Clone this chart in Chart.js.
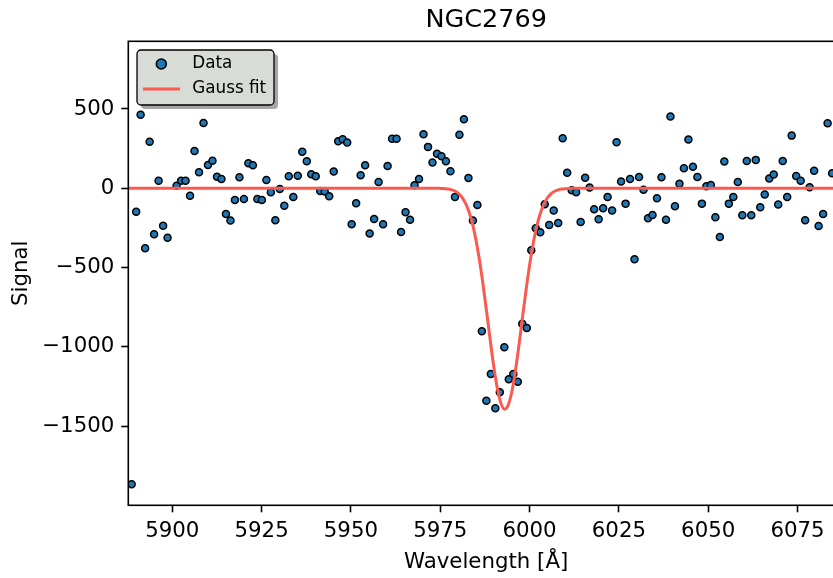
<!DOCTYPE html>
<html>
<head>
<meta charset="utf-8">
<title>NGC2769</title>
<script src="https://cdn.jsdelivr.net/npm/chart.js@4.4.1/dist/chart.umd.min.js"></script>
<style>
  html, body { margin: 0; padding: 0; background: #fff; overflow: hidden; }
  #wrap { width: 833px; height: 578px; overflow: hidden; }
</style>
</head>
<body>
<div id="wrap"><canvas id="spectrumChart" width="850" height="578"></canvas></div>
<script>
// Observed spectrum (wavelength in Angstrom, signal)
const wavelength = [
  5888.64, 5889.90, 5891.15, 5892.41, 5893.67, 5894.92, 5896.18, 5897.44, 5898.69, 5899.95,
  5901.21, 5902.47, 5903.72, 5904.98, 5906.23, 5907.49, 5908.75, 5910.00, 5911.26, 5912.52,
  5913.77, 5915.03, 5916.29, 5917.54, 5918.80, 5920.06, 5921.31, 5922.57, 5923.82, 5925.08,
  5926.34, 5927.59, 5928.85, 5930.11, 5931.36, 5932.62, 5933.88, 5935.13, 5936.39, 5937.65,
  5938.90, 5940.16, 5941.42, 5942.67, 5943.93, 5945.19, 5946.44, 5947.70, 5948.96, 5950.21,
  5951.47, 5952.73, 5953.98, 5955.24, 5956.50, 5957.75, 5959.01, 5960.27, 5961.52, 5962.78,
  5964.04, 5965.29, 5966.55, 5967.81, 5969.06, 5970.32, 5971.58, 5972.83, 5974.09, 5975.35,
  5976.60, 5977.86, 5979.12, 5980.37, 5981.63, 5982.89, 5984.14, 5985.40, 5986.65, 5987.91,
  5989.17, 5990.42, 5991.68, 5992.94, 5994.19, 5995.45, 5996.71, 5997.96, 5999.22, 6000.48,
  6001.73, 6002.99, 6004.25, 6005.50, 6006.76, 6008.02, 6009.27, 6010.53, 6011.79, 6013.04,
  6014.30, 6015.56, 6016.81, 6018.07, 6019.33, 6020.58, 6021.84, 6023.10, 6024.35, 6025.61,
  6026.87, 6028.12, 6029.38, 6030.64, 6031.89, 6033.15, 6034.41, 6035.66, 6036.92, 6038.18,
  6039.43, 6040.69, 6041.95, 6043.20, 6044.46, 6045.72, 6046.97, 6048.23, 6049.49, 6050.74,
  6052.00, 6053.26, 6054.51, 6055.77, 6057.02, 6058.28, 6059.54, 6060.79, 6062.05, 6063.31,
  6064.56, 6065.82, 6067.08, 6068.33, 6069.59, 6070.85, 6072.10, 6073.36, 6074.62, 6075.87,
  6077.13, 6078.39, 6079.64, 6080.90, 6082.16, 6083.41, 6084.67,
]
const signal = [
  -1867, -148, 464, -379, 294, -290, 48, -236, -312, null,
  16, 48, 48, -47, 235, 101, 412, 147, 174, 73,
  59, -162, -204, -74, 69, -68, 158, 145, -68, -74,
  52, -25, -202, -4, -110, 76, -55, 79, 231, 170,
  88, 76, -17, -21, -50, 105, 297, 309, 288, -227,
  -95, 82, 145, -286, -194, 40, -227, 141, 313, 313,
  -276, -151, -198, 19, 59, 341, 261, 162, 218, 202,
  170, 107, -55, 338, 435, 65, -204, -105, -902, -1340,
  -1172, -1388, -1287, -1003, -1205, -1172, -1220, -854, -881, -391,
  -252, -278, -101, -232, -141, -219, 315, 98, -13, -25,
  -213, 67, 4, -132, -196, -126, -55, -141, 290, 42,
  -97, 59, -448, 71, -9, -189, -168, -63, 69, -198,
  452, -114, 29, 126, 307, 136, 71, -97, 13, 21,
  -183, -307, 168, -97, -55, 40, -170, 172, -170, 179,
  -120, -40, 61, 86, -103, 172, -55, 332, 78, 48,
  -202, 6, 111, -238, -162, 410, 95,
]

// Gaussian fit curve
const fitWavelength = [
  5887, 5974, 5975, 5976, 5977, 5978, 5979, 5980, 5981, 5982, 5983, 5984, 5985, 5986, 5987,
  5988, 5989, 5990, 5991, 5992, 5993, 5994, 5995, 5996, 5997, 5998, 5999, 6000, 6001, 6002,
  6003, 6004, 6005, 6006, 6007, 6008, 6009, 6010, 6011, 6012, 6090,
]
const fitSignal = [
  0, 0, -1, -2, -4.5, -9, -17, -31, -54, -91, -145, -222, -326, -456, -611,
  -783, -960, -1127, -1264, -1357, -1394, -1369, -1287, -1157, -995, -819, -645, -485, -350, -241,
  -159, -100, -60, -35, -19, -10, -5, -2.5, -1, 0, 0,
]

const xTicks = [5900, 5925, 5950, 5975, 6000, 6025, 6050, 6075]
const yTicks = [-1500, -1000, -500, 0, 500]

const FONT = "'DejaVu Sans', sans-serif"
Chart.defaults.font.family = FONT
Chart.defaults.color = "#000"

// matplotlib-like spines on all four sides
const frame = {
  id: "frame",
  afterDatasetsDraw(chart) {
    const { ctx, chartArea } = chart
    ctx.save()
    ctx.strokeStyle = "#000"
    ctx.lineWidth = 1.6
    ctx.strokeRect(chartArea.left, chartArea.top, chartArea.right - chartArea.left, chartArea.bottom - chartArea.top)
    ctx.restore()
  },
}

// Legend box with drop shadow, upper left
const legendBox = {
  id: "legendBox",
  afterDraw(chart) {
    const { ctx, chartArea } = chart
    const x = chartArea.left + 8.7
    const y = chartArea.top + 8.7
    const w = 137
    const h = 55
    const fit = chart.data.datasets[0]
    const pts = chart.data.datasets[1]
    ctx.save()
    ctx.fillStyle = "rgba(0,0,0,0.35)"
    ctx.beginPath()
    ctx.roundRect(x + 4, y + 4, w, h, 4)
    ctx.fill()
    ctx.fillStyle = "#d8dcd6"
    ctx.strokeStyle = "#000"
    ctx.lineWidth = 1.3
    ctx.beginPath()
    ctx.roundRect(x, y, w, h, 4)
    ctx.fill()
    ctx.stroke()

    // Data marker
    ctx.beginPath()
    ctx.arc(x + 24.3, y + 14, 5, 0, Math.PI * 2)
    ctx.fillStyle = pts.pointBackgroundColor
    ctx.fill()
    ctx.lineWidth = 1.6
    ctx.strokeStyle = "#000"
    ctx.stroke()

    // Fit line
    ctx.beginPath()
    ctx.moveTo(x + 6, y + 39)
    ctx.lineTo(x + 43, y + 39)
    ctx.strokeStyle = fit.borderColor
    ctx.lineWidth = 3
    ctx.stroke()

    ctx.fillStyle = "#000"
    ctx.font = "16.8px " + FONT
    ctx.textBaseline = "middle"
    ctx.fillText(pts.label, x + 55.3, y + 14)
    ctx.fillText(fit.label, x + 55.3, y + 39)
    ctx.restore()
  },
}

const axisGrid = {
  display: true,
  drawOnChartArea: false,
  drawTicks: true,
  tickLength: 7,
  tickWidth: 1.6,
  tickColor: "#000",
}

new Chart(document.getElementById("spectrumChart").getContext("2d"), {
  type: "scatter",
  data: {
    datasets: [
      {
        type: "line",
        label: "Gauss fit",
        data: fitWavelength.map((w, i) => ({ x: w, y: fitSignal[i] })),
        borderColor: "#fa5a50",
        borderWidth: 3,
        pointRadius: 0,
        fill: false,
        cubicInterpolationMode: "monotone",
        order: 0,
      },
      {
        label: "Data",
        data: wavelength.map((w, i) => ({ x: w, y: signal[i] })),
        pointRadius: 3.5,
        pointBackgroundColor: "#1f77b4",
        pointBorderColor: "#000",
        pointBorderWidth: 1.5,
        order: 1,
      },
    ],
  },
  options: {
    responsive: false,
    animation: false,
    events: [],
    layout: { padding: { left: 0, right: 6, top: 0, bottom: 0 } },
    plugins: {
      legend: { display: false },
      tooltip: { enabled: false },
      title: {
        display: true,
        text: "NGC2769",
        fullSize: false,
        color: "#000",
        font: { size: 25.5, weight: "normal" },
        padding: { top: 4.7, bottom: 6.0 },
      },
    },
    scales: {
      x: {
        type: "linear",
        min: 5887.7,
        max: 6088,
        afterBuildTicks: (axis) => {
          axis.ticks = xTicks.map((v) => ({ value: v }))
        },
        afterFit: (scale) => {
          scale.height = 72.7
        },
        border: { display: false },
        grid: axisGrid,
        ticks: {
          autoSkip: false,
          maxRotation: 0,
          padding: 6.5,
          font: { size: 21.3 },
          callback: (value) => String(value),
        },
        title: {
          display: true,
          text: "Wavelength [Å]",
          font: { size: 21.3 },
          padding: { top: 0, bottom: 2.5 },
        },
      },
      y: {
        min: -2000,
        max: 927,
        afterBuildTicks: (axis) => {
          axis.ticks = yTicks.map((v) => ({ value: v }))
        },
        afterFit: (scale) => {
          scale.width = 128.3
        },
        border: { display: false },
        grid: axisGrid,
        ticks: {
          padding: 7,
          font: { size: 21.3 },
          callback: (value) => String(value).replace("-", "\u2212"),
        },
        title: {
          display: true,
          text: "Signal",
          font: { size: 21.3 },
          padding: { top: 8.5, bottom: 0 },
        },
      },
    },
  },
  plugins: [frame, legendBox],
})
</script>
</body>
</html>
